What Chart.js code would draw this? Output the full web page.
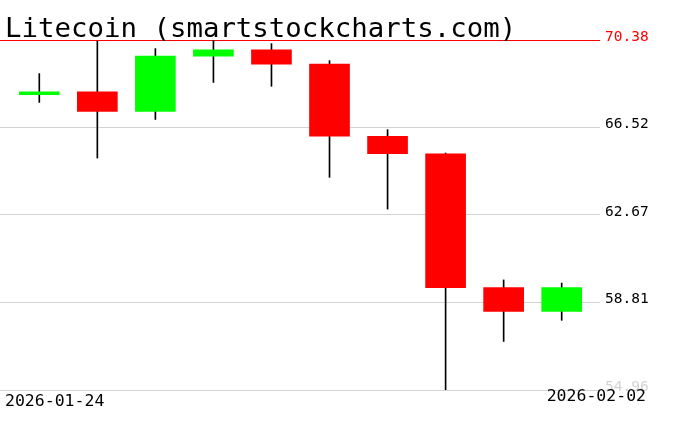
<!DOCTYPE html>
<html>
<head>
<meta charset="utf-8">
<script src="https://cdn.jsdelivr.net/npm/chart.js@4/dist/chart.umd.min.js"></script>
<style>
    body { margin: 0; background: #fff; }
    #contenedor { width: 676px; height: 431px; }
</style>
</head>
<body>
<div id="contenedor"><canvas id="grafica" width="676" height="431"></canvas></div>
<script>
const titulo = 'Litecoin (smartstockcharts.com)'
const fechas = [
    '2026-01-24', '2026-01-25', '2026-01-26', '2026-01-27', '2026-01-28',
    '2026-01-29', '2026-01-30', '2026-01-31', '2026-02-01', '2026-02-02'
]
const apertura = [67.97, 68.10, 67.23, 69.67, 69.95, 69.32, 66.14, 65.37, 59.47, 58.42]
const maximo   = [68.90, 70.33, 70.00, 70.38, 70.22, 69.47, 66.43, 65.40, 59.81, 59.67]
const minimo   = [67.63, 65.18, 66.88, 68.51, 68.34, 64.33, 62.93, 54.96, 57.10, 58.03]
const cierre   = [68.10, 67.23, 69.67, 69.95, 69.32, 66.14, 65.37, 59.47, 58.42, 59.47]
const nivelesY = [70.38, 66.52, 62.67, 58.81, 54.96]

const verde = '#00ff00'
const rojo = '#ff0000'

const cuerpos = fechas.map((f, i) => ({ x: i, y: [apertura[i], cierre[i]] }))
const mechas = fechas.map((f, i) => ({ x: i, y: [minimo[i], maximo[i]] }))
const coloresCuerpo = fechas.map((f, i) => cierre[i] >= apertura[i] ? verde : rojo)

// textos: titulo, etiquetas del eje y, fechas extremas
const textos = {
    id: 'textos',
    afterDraw(chart) {
        const ctx = chart.ctx
        const escalaY = chart.scales.y
        ctx.save()
        ctx.textBaseline = 'alphabetic'
        ctx.textAlign = 'left'
        ctx.fillStyle = '#000'
        ctx.font = '27.4px "DejaVu Sans Mono"'
        ctx.fillText(titulo, 5, 37)

        ctx.font = '14.5px "DejaVu Sans Mono"'
        nivelesY.forEach((v, i) => {
            if (i === 0) ctx.fillStyle = rojo
            else if (i === nivelesY.length - 1) ctx.fillStyle = '#d3d3d3'
            else ctx.fillStyle = '#000'
            ctx.fillText(v.toFixed(2), 605, escalaY.getPixelForValue(v) + 0.5)
        })

        ctx.fillStyle = '#000'
        ctx.font = '16.5px "DejaVu Sans Mono"'
        ctx.fillText(fechas[0], 5, 406)
        ctx.textAlign = 'right'
        ctx.fillText(fechas[fechas.length - 1], 646, 401)
        ctx.restore()
    }
}

new Chart(document.getElementById('grafica'), {
    type: 'bar',
    data: {
        datasets: [{
            data: cuerpos,
            backgroundColor: coloresCuerpo,
            borderWidth: 0,
            barThickness: 40,
            grouped: false
        }, {
            data: mechas,
            backgroundColor: '#000',
            borderWidth: 0,
            barThickness: 1,
            grouped: false
        }]
    },
    options: {
        responsive: false,
        animation: false,
        layout: { padding: { left: 0, right: 76, top: 40, bottom: 41 } },
        plugins: { legend: { display: false }, tooltip: { enabled: false } },
        scales: {
            x: {
                type: 'linear',
                display: false,
                offset: false,
                min: -0.677,
                max: 9.66
            },
            y: {
                position: 'right',
                min: 54.96,
                max: 70.38,
                afterBuildTicks: (escala) => {
                    escala.ticks = nivelesY.map(v => ({ value: v }))
                },
                ticks: { display: false },
                border: { display: false },
                grid: {
                    drawTicks: false,
                    color: (c) => c.tick && c.tick.value === nivelesY[0] ? rojo : '#d3d3d3'
                }
            }
        }
    },
    plugins: [textos]
})
</script>
</body>
</html>
